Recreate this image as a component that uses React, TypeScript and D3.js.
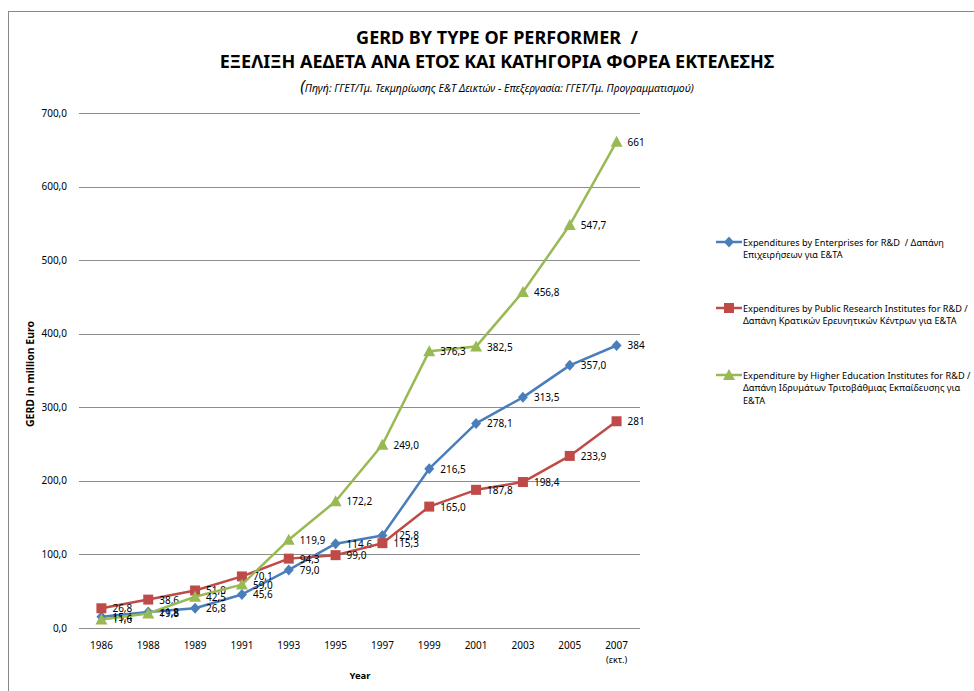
import * as d3 from "d3";

const years = ["1986", "1988", "1989", "1991", "1993", "1995", "1997", "1999", "2001", "2003", "2005", "2007"];
const enterprises = [15.4, 21.8, 26.8, 45.6, 79.0, 114.6, 125.8, 216.5, 278.1, 313.5, 357.0, 384];
const publicInst = [26.8, 38.6, 51.0, 70.1, 94.3, 99.0, 115.3, 165.0, 187.8, 198.4, 233.9, 281];
const higherEd = [11.6, 19.8, 42.5, 59.0, 119.9, 172.2, 249.0, 376.3, 382.5, 456.8, 547.7, 661];
const yTicks = [0, 100, 200, 300, 400, 500, 600, 700];

const legendLines = [
  ["Expenditures by Enterprises for R&D\u00A0 / Δαπάνη", "Επιχειρήσεων για Ε&ΤΑ"],
  ["Expenditures by Public Research Institutes for R&D /", "Δαπάνη Κρατικών Ερευνητικών Κέντρων για Ε&ΤΑ"],
  ["Expenditure by Higher Education Institutes for R&D /", "Δαπάνη Ιδρυμάτων Τριτοβάθμιας Εκπαίδευσης για", "Ε&ΤΑ"],
];

const font = "'Noto Sans', 'Open Sans', sans-serif";

// Excel style numbers: one decimal with comma, last (estimated) point as integer
const fmt = (v: number, i: number) => (i === years.length - 1 ? String(Math.round(v)) : v.toFixed(1).replace(".", ","));

export default function App() {
  const width = 974;
  const height = 691;

  const x = d3.scalePoint<string>().domain(years).range([78, 640]).padding(0.5);
  const y = d3.scaleLinear().domain([0, 700]).range([628, 113]);

  const series = [
    { name: "ent", values: enterprises, color: "#4A7EBB", marker: "diamond" },
    { name: "pub", values: publicInst, color: "#BE4B48", marker: "square" },
    { name: "hed", values: higherEd, color: "#98B954", marker: "triangle" },
  ];

  const line = d3
    .line<number>()
    .x((_, i) => x(years[i])!)
    .y((d) => y(d));

  const marker = (type: string, cx: number, cy: number, color: string, key: string) => {
    if (type === "diamond") {
      return <path key={key} d={`M${cx},${cy - 5.5}L${cx + 5},${cy}L${cx},${cy + 5.5}L${cx - 5},${cy}Z`} fill={color} />;
    }
    if (type === "square") {
      return <rect key={key} x={cx - 5} y={cy - 5} width={10} height={10} fill={color} />;
    }
    return <path key={key} d={`M${cx},${cy - 6}L${cx + 6},${cy + 5}L${cx - 6},${cy + 5}Z`} fill={color} />;
  };

  const legendY = [242, 308, 375];

  return (
    <svg width={width} height={height} style={{ position: "absolute", left: 0, top: 0, background: "#fff" }} fontFamily={font}>
      <rect x={8.5} y={11.5} width={980} height={700} fill="#fff" stroke="#888" strokeWidth={1} />

      {/* titles */}
      <text x={497} y={44} textAnchor="middle" fontSize={18} fontWeight="bold" fill="#000">
        GERD BY TYPE OF PERFORMER{"\u00A0\u00A0"}/
      </text>
      <text x={497} y={68} textAnchor="middle" fontSize={18} fontWeight="bold" fill="#000">
        ΕΞΕΛΙΞΗ ΑΕΔΕΤΑ ΑΝΑ ΕΤΟΣ ΚΑΙ ΚΑΤΗΓΟΡΙΑ ΦΟΡΕΑ ΕΚΤΕΛΕΣΗΣ
      </text>
      <text x={497} y={92} textAnchor="middle" fontSize={10.5} fontStyle="italic" fill="#000">
        <tspan fontSize={16}>(</tspan>
        <tspan>Πηγή: ΓΓΕΤ/Τμ. Τεκμηρίωσης Ε&Τ Δεικτών - Επεξεργασία: ΓΓΕΤ/Τμ. Προγραμματισμού)</tspan>
      </text>

      {/* gridlines and y ticks */}
      {yTicks.map((t) => (
        <g key={t}>
          <line x1={79} x2={640} y1={Math.round(y(t)) + 0.5} y2={Math.round(y(t)) + 0.5} stroke="#8c8c8c" strokeWidth={1} />
          <text x={67} y={y(t) + 3.5} textAnchor="end" fontSize={10} fill="#000">
            {t.toFixed(1).replace(".", ",")}
          </text>
        </g>
      ))}

      {/* x ticks */}
      {years.map((yr) => (
        <text key={yr} x={x(yr)} y={649} textAnchor="middle" fontSize={10} fill="#000">
          {yr}
        </text>
      ))}
      <text x={x("2007")} y={663} textAnchor="middle" fontSize={9} fill="#000">
        (εκτ.)
      </text>

      <text x={360} y={679} textAnchor="middle" fontSize={9.5} fontWeight="bold" fill="#000">
        Year
      </text>
      <text transform="translate(34,374) rotate(-90)" textAnchor="middle" fontSize={10.5} fontWeight="bold" fill="#000">
        GERD in million Euro
      </text>

      {/* series */}
      {series.map((s) => (
        <g key={s.name}>
          <path d={line(s.values)!} fill="none" stroke={s.color} strokeWidth={2.5} strokeLinejoin="round" />
          {s.values.map((v, i) => marker(s.marker, x(years[i])!, y(v), s.color, `${s.name}-${i}`))}
          {s.values.map((v, i) => (
            <text key={`l-${s.name}-${i}`} x={x(years[i])! + 11} y={y(v) + 4} fontSize={10} fill="#000">
              {fmt(v, i)}
            </text>
          ))}
        </g>
      ))}

      {/* legend */}
      {series.map((s, k) => {
        const ly = legendY[k];
        return (
          <g key={`leg-${s.name}`}>
            <line x1={716} x2={742} y1={ly} y2={ly} stroke={s.color} strokeWidth={2.5} />
            {marker(s.marker, 729, ly, s.color, `lm-${k}`)}
            {legendLines[k].map((t, j) => (
              <text key={j} x={743} y={ly + 3.5 + j * 12.5} fontSize={9.2} fill="#000">
                {t}
              </text>
            ))}
          </g>
        );
      })}
    </svg>
  );
}
